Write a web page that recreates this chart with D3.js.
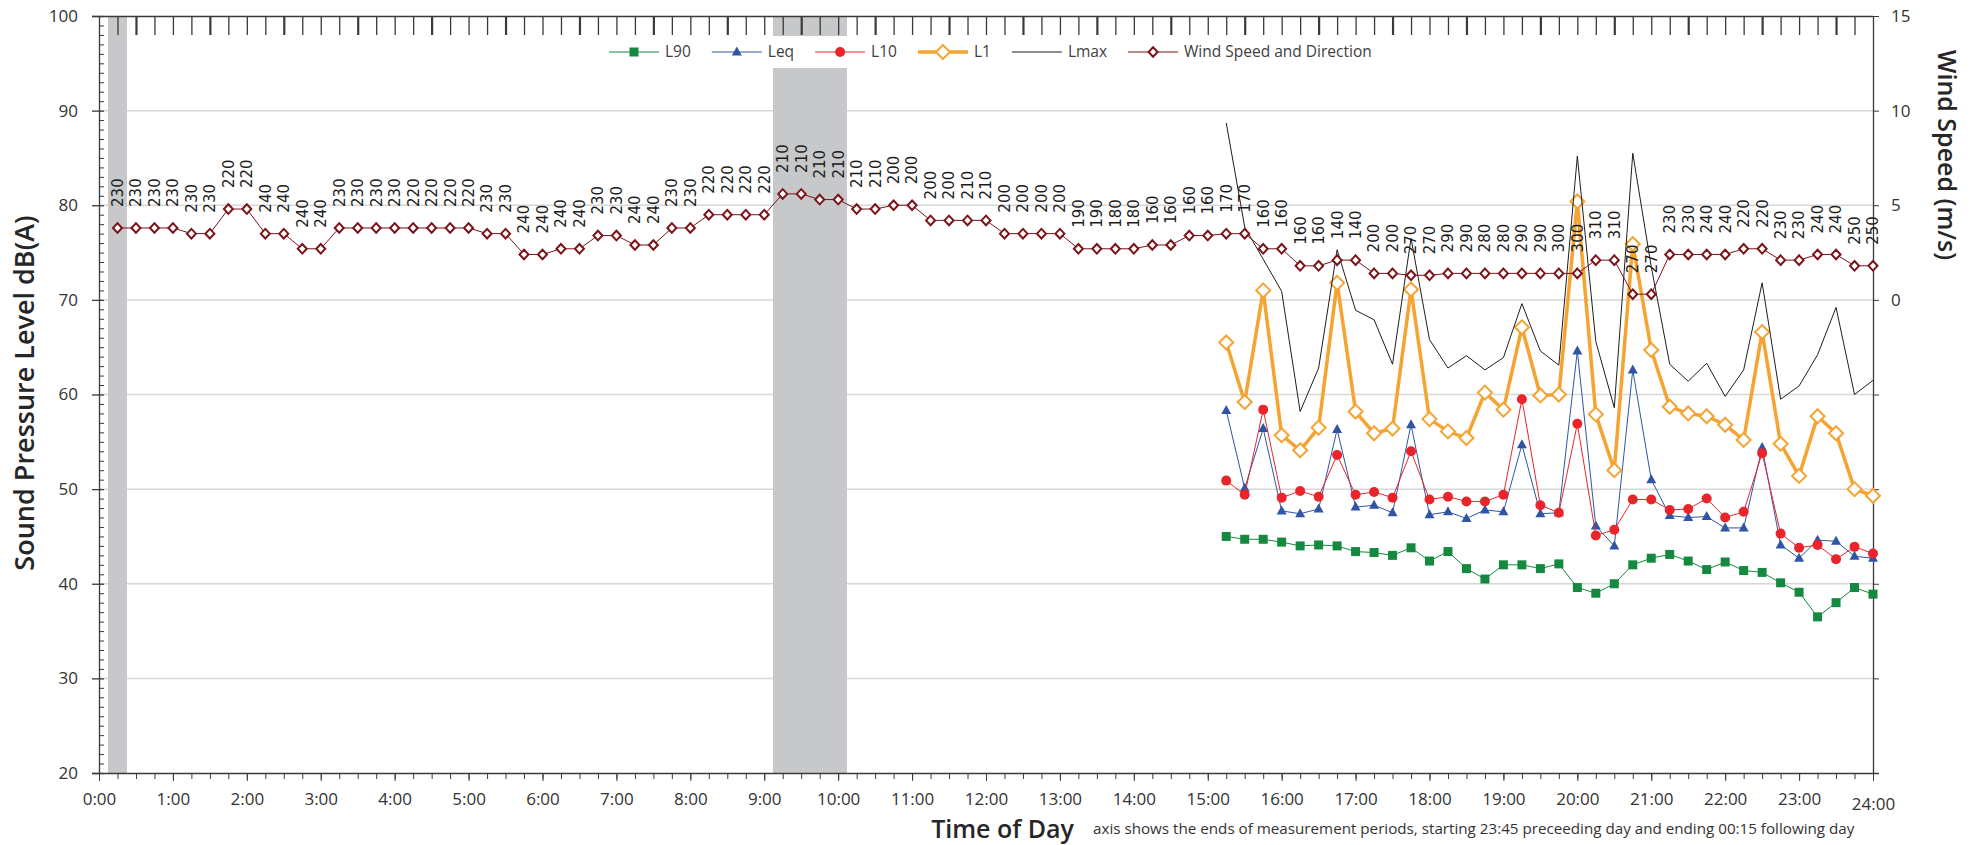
<!DOCTYPE html>
<html>
<head>
<meta charset="utf-8">
<script src="https://cdn.jsdelivr.net/npm/d3@7/dist/d3.min.js"></script>
<style>
  body { margin: 0; background: #fff; }
  svg { display: block; font-family: "Open Sans", "Noto Sans", sans-serif; }
</style>
</head>
<body>
<svg id="chart" width="1982" height="845"></svg>
<script>
// period k (1..96) is the 15 minute period ending at k*15 min
let periods = d3.range(1, 97);

let hourLabels = ["0:00", "1:00", "2:00", "3:00", "4:00", "5:00", "6:00", "7:00", "8:00",
  "9:00", "10:00", "11:00", "12:00", "13:00", "14:00", "15:00", "16:00", "17:00",
  "18:00", "19:00", "20:00", "21:00", "22:00", "23:00", "24:00"];

// wind speed (m/s), 8 periods = 2 hours per row
let windSpeed = [
  3.8, 3.8, 3.8, 3.8, 3.5, 3.5, 4.8, 4.8,
  3.5, 3.5, 2.7, 2.7, 3.8, 3.8, 3.8, 3.8,
  3.8, 3.8, 3.8, 3.8, 3.5, 3.5, 2.4, 2.4,
  2.7, 2.7, 3.4, 3.4, 2.9, 2.9, 3.8, 3.8,
  4.5, 4.5, 4.5, 4.5, 5.6, 5.6, 5.3, 5.3,
  4.8, 4.8, 5.0, 5.0, 4.2, 4.2, 4.2, 4.2,
  3.5, 3.5, 3.5, 3.5, 2.7, 2.7, 2.7, 2.7,
  2.9, 2.9, 3.4, 3.4, 3.5, 3.5, 2.7, 2.7,
  1.8, 1.8, 2.1, 2.1, 1.4, 1.4, 1.3, 1.3,
  1.4, 1.4, 1.4, 1.4, 1.4, 1.4, 1.4, 1.4,
  2.1, 2.1, 0.3, 0.3, 2.4, 2.4, 2.4, 2.4,
  2.7, 2.7, 2.1, 2.1, 2.4, 2.4, 1.8, 1.8
];

// wind direction (degrees)
let windDir = [
  230, 230, 230, 230, 230, 230, 220, 220,
  240, 240, 240, 240, 230, 230, 230, 230,
  220, 220, 220, 220, 230, 230, 240, 240,
  240, 240, 230, 230, 240, 240, 230, 230,
  220, 220, 220, 220, 210, 210, 210, 210,
  210, 210, 200, 200, 200, 200, 210, 210,
  200, 200, 200, 200, 190, 190, 180, 180,
  160, 160, 160, 160, 170, 170, 160, 160,
  160, 160, 140, 140, 200, 200, 270, 270,
  290, 290, 280, 280, 290, 290, 300, 300,
  310, 310, 270, 270, 230, 230, 240, 240,
  220, 220, 230, 230, 240, 240, 250, 250
];

// excluded periods (grey bars)
let excluded = [1, 37, 38, 39, 40];

// noise levels dB(A), from period 61 (15:15) to 96 (24:00)
let noiseStart = 61;
let L90 = [45.0, 44.7, 44.7, 44.4, 44.0, 44.1, 44.0, 43.4, 43.3, 43.0, 43.8, 42.4,
  43.4, 41.6, 40.5, 42.0, 42.0, 41.6, 42.1, 39.6, 39.0, 40.0, 42.0, 42.7,
  43.1, 42.4, 41.5, 42.3, 41.4, 41.2, 40.1, 39.1, 36.5, 38.0, 39.6, 38.9];
let Leq = [58.3, 50.1, 56.4, 47.7, 47.4, 47.9, 56.3, 48.1, 48.3, 47.5, 56.8, 47.3,
  47.6, 46.9, 47.8, 47.6, 54.7, 47.4, 47.5, 64.6, 46.1, 44.0, 62.6, 51.0,
  47.2, 47.0, 47.1, 45.9, 45.9, 54.4, 44.1, 42.7, 44.6, 44.5, 42.9, 42.7];
let L10 = [50.9, 49.4, 58.4, 49.1, 49.8, 49.2, 53.6, 49.4, 49.7, 49.1, 54.0, 48.9,
  49.2, 48.7, 48.7, 49.4, 59.5, 48.3, 47.5, 56.9, 45.1, 45.7, 48.9, 48.9,
  47.8, 47.9, 49.0, 47.0, 47.6, 53.8, 45.3, 43.8, 44.1, 42.6, 43.9, 43.2];
let L1 = [65.5, 59.2, 71.0, 55.7, 54.1, 56.5, 71.8, 58.2, 55.9, 56.4, 71.1, 57.4,
  56.1, 55.4, 60.2, 58.4, 67.1, 59.9, 60.0, 80.4, 57.9, 52.0, 75.9, 64.7,
  58.7, 58.0, 57.7, 56.8, 55.2, 66.6, 54.8, 51.4, 57.7, 55.9, 50.0, 49.3];
let Lmax = [88.7, 77.7, 74.3, 70.9, 58.2, 62.8, 75.3, 68.9, 67.9, 63.2, 76.5, 65.8,
  62.8, 64.1, 62.6, 63.9, 69.6, 64.6, 63.1, 85.2, 65.6, 58.6, 85.5, 73.5,
  63.2, 61.4, 63.3, 59.8, 62.6, 71.8, 59.5, 60.9, 64.2, 69.2, 60.0, 61.5];

let series = [
  { name: "L90", values: L90, color: "#14893f", width: 1, marker: "square" },
  { name: "Leq", values: Leq, color: "#2f55a4", width: 1, marker: "triangle" },
  { name: "L10", values: L10, color: "#e9252b", width: 1, marker: "circle" },
  { name: "L1", values: L1, color: "#f5a331", width: 3.5, marker: "bigDiamond" },
  { name: "Lmax", values: Lmax, color: "#1e1e1e", width: 1, marker: null }
];
let windColor = "#7b1418";

let svg = d3.select("#chart");

let x = d3.scaleLinear().domain([0, 24]).range([99, 1873]);
let y = d3.scaleLinear().domain([20, 100]).range([773, 16]);
let y2 = d3.scaleLinear().domain([-25, 15]).range([773, 16]);
let hourOf = (k) => k * 0.25;

let markerPath = (shape) => {
  if (shape === "square") return "M-4.5,-4.5h9v9h-9Z";
  if (shape === "triangle") return "M0,-5.5L5,3.5L-5,3.5Z";
  if (shape === "circle") return "M-5,0a5,5 0 1,0 10,0a5,5 0 1,0 -10,0Z";
  if (shape === "bigDiamond") return "M0,-7L7,0L0,7L-7,0Z";
  if (shape === "diamond") return "M0,-4.8L4.5,0L0,4.8L-4.5,0Z";
  return "";
};

let styleMarker = (sel, shape, color) => {
  if (shape === "bigDiamond" || shape === "diamond") {
    sel.attr("fill", "#fff").attr("stroke", color).attr("stroke-width", 2);
  } else {
    sel.attr("fill", color).attr("stroke", "none");
  }
};

// gridlines
svg.append("g")
  .selectAll("line")
  .data([30, 40, 50, 60, 70, 80, 90])
  .join("line")
  .attr("x1", x(0))
  .attr("x2", x(24))
  .attr("y1", (d) => y(d))
  .attr("y2", (d) => y(d))
  .attr("stroke", "#d7d7d7")
  .attr("stroke-width", 1.5);

// excluded periods
let step = x(0.25) - x(0);
svg.append("g")
  .selectAll("rect")
  .data(excluded)
  .join("rect")
  .attr("x", (k) => x(hourOf(k)) - step / 2)
  .attr("width", step)
  .attr("y", y(100))
  .attr("height", y(20) - y(100))
  .attr("fill", "#c7c8ca")
  .attr("shape-rendering", "crispEdges");

// axes
let axisColor = "#3a3a3a";
let fixAxis = (g) => {
  g.attr("font-family", null).attr("font-size", null);
  g.selectAll("path, line").attr("stroke", axisColor);
  g.selectAll("text").attr("fill", "#333").style("font-size", "17px");
};

// bottom: minor 15 min ticks and labelled hours
svg.append("g")
  .attr("transform", `translate(0,${y(20)})`)
  .call(d3.axisBottom(x).tickValues(d3.range(0, 96).map(hourOf)).tickSize(6).tickSizeOuter(0).tickFormat(""))
  .call(fixAxis)
  .call((g) => g.select(".domain").attr("d", `M${x(0) - 7},0.5H${x(24) + 6}`).attr("stroke-width", 1.3));
svg.append("g")
  .attr("transform", `translate(0,${y(20)})`)
  .call(d3.axisBottom(x).tickValues(d3.range(0, 25)).tickSize(8).tickPadding(12).tickFormat((d, i) => hourLabels[i]))
  .call(fixAxis)
  .call((g) => g.select(".domain").remove())
  .call((g) => g.select(".tick:last-of-type text").attr("dy", "1.0em"));

// top: ticks hanging into the plot
svg.append("g")
  .attr("transform", `translate(0,${y(100)})`)
  .call(d3.axisTop(x).tickValues(d3.range(1, 96).map(hourOf)).tickSize(-19).tickSizeOuter(0).tickFormat(""))
  .call(fixAxis)
  .call((g) => g.select(".domain").attr("d", `M${x(0) - 7},0.5H${x(24)}`).attr("stroke-width", 1.6))
  .call((g) => g.selectAll(".tick line").attr("stroke-width", (d) => (d % 1 === 0.5 ? 2.2 : 1.3)));

// left: minor 1 dB ticks and major crossing ticks
svg.append("g")
  .attr("transform", `translate(${x(0)},0)`)
  .call(d3.axisLeft(y).tickValues(d3.range(21, 100).filter((d) => d % 10 !== 0)).tickSize(-5).tickSizeOuter(0).tickFormat(""))
  .call(fixAxis)
  .call((g) => g.select(".domain").attr("stroke-width", 1.3));
svg.append("g")
  .attr("transform", `translate(${x(0)},0)`)
  .call(d3.axisLeft(y).tickValues(d3.range(20, 101, 10)).tickSize(7).tickPadding(14))
  .call(fixAxis)
  .call((g) => g.select(".domain").remove())
  .call((g) => g.selectAll(".tick line").attr("x2", -7).attr("x1", 5).attr("stroke-width", 1.3));

// right: wind speed
svg.append("g")
  .attr("transform", `translate(${x(24)},0)`)
  .call(d3.axisRight(y2).tickValues(d3.range(-25, 16, 5)).tickSize(6).tickSizeOuter(0).tickPadding(12)
    .tickFormat((d) => (d >= 0 ? d : "")))
  .call(fixAxis)
  .call((g) => g.select(".domain").attr("stroke-width", 1.3));

// noise series
let line = d3.line().x((d) => x(d.t)).y((d) => y(d.v));
series.forEach((s) => {
  let pts = s.values.map((v, i) => ({ t: hourOf(noiseStart + i), v: v }));
  let g = svg.append("g");
  g.append("path")
    .attr("d", line(pts))
    .attr("fill", "none")
    .attr("stroke", s.color)
    .attr("stroke-width", s.width)
    .attr("stroke-linejoin", "round");
  if (s.marker) {
    g.selectAll("path.m")
      .data(pts)
      .join("path")
      .attr("class", "m")
      .attr("d", markerPath(s.marker))
      .attr("transform", (d) => `translate(${x(d.t)},${y(d.v)})`)
      .call(styleMarker, s.marker, s.color);
  }
});

// wind speed and direction
let windLine = d3.line().x((k) => x(hourOf(k))).y((k) => y2(windSpeed[k - 1]));
svg.append("path")
  .attr("d", windLine(periods))
  .attr("fill", "none")
  .attr("stroke", windColor)
  .attr("stroke-width", 1);
svg.append("g")
  .selectAll("path")
  .data(periods)
  .join("path")
  .attr("d", markerPath("diamond"))
  .attr("transform", (k) => `translate(${x(hourOf(k))},${y2(windSpeed[k - 1])})`)
  .call(styleMarker, "diamond", windColor);
svg.append("g")
  .selectAll("text")
  .data(periods)
  .join("text")
  .attr("transform", (k) => `translate(${x(hourOf(k))},${y2(windSpeed[k - 1]) - 21}) rotate(-90)`)
  .attr("dy", "0.36em")
  .attr("font-family", "DejaVu Sans, sans-serif")
  .attr("font-size", 15)
  .attr("fill", "#1c1c1c")
  .text((k) => windDir[k - 1]);

// legend
let legendItems = series.map((s) => ({ name: s.name, color: s.color, width: s.width, marker: s.marker }));
legendItems.push({ name: "Wind Speed and Direction", color: windColor, width: 1, marker: "diamond" });
let legend = svg.append("g");
let legendBg = legend.append("rect").attr("fill", "#fff").attr("y", 36).attr("height", 32);
let ly = 52;
let cursor = 609;
legendItems.forEach((item) => {
  legend.append("line")
    .attr("x1", cursor)
    .attr("x2", cursor + 50)
    .attr("y1", ly)
    .attr("y2", ly)
    .attr("stroke", item.color)
    .attr("stroke-width", item.width);
  if (item.marker) {
    legend.append("path")
      .attr("d", markerPath(item.marker))
      .attr("transform", `translate(${cursor + 25},${ly})`)
      .call(styleMarker, item.marker, item.color);
  }
  let t = legend.append("text")
    .attr("x", cursor + 56)
    .attr("y", ly)
    .attr("dy", "0.35em")
    .attr("font-size", 15.5)
    .attr("fill", "#404040")
    .text(item.name);
  cursor += 56 + t.node().getComputedTextLength() + 21;
});
legendBg.attr("x", 600).attr("width", cursor - 600);

// axis titles
svg.append("text")
  .attr("transform", "translate(25,393) rotate(-90)")
  .attr("text-anchor", "middle")
  .attr("dy", "0.35em")
  .attr("font-size", 27)
  .attr("font-weight", 600)
  .attr("fill", "#262626")
  .text("Sound Pressure Level dB(A)");

svg.append("text")
  .attr("transform", "translate(1947,155) rotate(90)")
  .attr("text-anchor", "middle")
  .attr("dy", "0.35em")
  .attr("font-size", 25)
  .attr("font-weight", 600)
  .attr("fill", "#262626")
  .text("Wind Speed (m/s)");

svg.append("text")
  .attr("x", 1074)
  .attr("y", 838)
  .attr("text-anchor", "end")
  .attr("font-size", 25)
  .attr("font-weight", 600)
  .attr("fill", "#262626")
  .text("Time of Day");

svg.append("text")
  .attr("x", 1093)
  .attr("y", 834)
  .attr("font-size", 15.2)
  .attr("fill", "#333")
  .text("axis shows the ends of measurement periods, starting 23:45 preceeding day and ending 00:15 following day");
</script>
</body>
</html>
